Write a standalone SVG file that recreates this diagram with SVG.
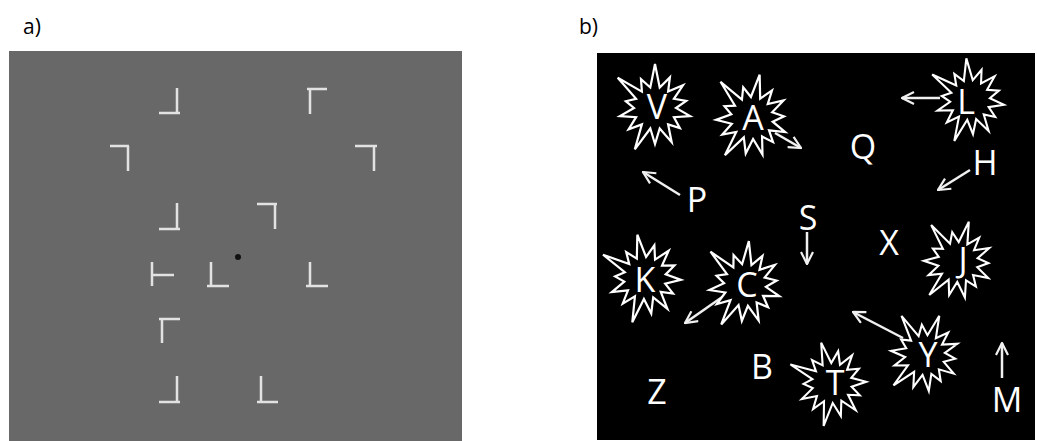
<svg xmlns="http://www.w3.org/2000/svg" xmlns:xlink="http://www.w3.org/1999/xlink" width="1037" height="441" viewBox="0 0 1037 441">
<style>
.lbl{font-family:"Open Sans","Liberation Sans",sans-serif;font-size:21px;fill:#000}
.mk{stroke:#e2e2e2;stroke-width:2.5;fill:none;stroke-linecap:butt}
.let{font-family:"Open Sans","Liberation Sans",sans-serif;font-size:34px;fill:#fff;text-anchor:middle}
.star{fill:#000;stroke:#fff;stroke-width:2.2;stroke-linejoin:miter}
.arr{stroke:#f0f0f0;stroke-width:2.5;fill:none;marker-end:url(#ah)}
</style>
<defs>
<path id="star" d="M0,-44 L4.7,-20.5 L14.9,-30.6 L13.1,-16.4 L28,-22.7 L18.9,-9.2 L31.2,-7.2 L21,0 L35.1,8.1 L18.9,9.2 L24.9,20.1 L13.1,16.4 L16.7,34.2 L4.7,20.5 L0,36 L-4.7,20.5 L-20.2,41.4 L-13.1,16.4 L-26.4,21.4 L-18.9,9.2 L-35.1,8.1 L-21,0 L-29.2,-6.8 L-18.9,-9.2 L-37.3,-30.2 L-13.1,-16.4 L-14,-28.8 L-4.7,-20.5 Z"/>
<marker id="ah" viewBox="0 0 14 14" refX="13" refY="7" markerWidth="14" markerHeight="14" markerUnits="userSpaceOnUse" orient="auto">
<path d="M1,1 L13,7 L1,13" fill="none" stroke="#f0f0f0" stroke-width="2.2"/>
</marker>
</defs>
<rect width="1037" height="441" fill="#fff"/>
<text class="lbl" x="23" y="34">a)</text>
<text class="lbl" x="579" y="34">b)</text>

<g id="panel-a">
<rect x="9" y="51" width="453" height="390" fill="#686868"/>
<path class="mk" d="M177,88 V113 M159,113 H180"/>
<path class="mk" d="M307,89 H327 M310,89 V114"/>
<path class="mk" d="M110,146 H129 M128,146 V171"/>
<path class="mk" d="M355,146 H377 M374,146 V171"/>
<path class="mk" d="M177,203 V229 M159,229 H180"/>
<path class="mk" d="M257,204 H277 M275,204 V229"/>
<circle cx="238" cy="257" r="3" fill="#111"/>
<path class="mk" d="M152,262 V286 M152,275 H174"/>
<path class="mk" d="M211,262 V286 M207,286 H229"/>
<path class="mk" d="M310,262 V286 M306,286 H328"/>
<path class="mk" d="M159,319 H180 M162,319 V343"/>
<path class="mk" d="M177,376 V402 M159,402 H180"/>
<path class="mk" d="M261,376 V402 M257,402 H278"/>
</g>

<g id="panel-b">
<rect x="597" y="53" width="438" height="387" fill="#000"/>
</g>

<g id="connectors">
<line class="arr" x1="775" y1="133" x2="801" y2="148"/>
<line class="arr" x1="940" y1="98" x2="902" y2="98"/>
<line class="arr" x1="970" y1="170" x2="938" y2="190"/>
<line class="arr" x1="680" y1="195" x2="643" y2="172"/>
<line class="arr" x1="807" y1="232" x2="807" y2="264"/>
<line class="arr" x1="728" y1="293" x2="685" y2="323"/>
<line class="arr" x1="903" y1="338" x2="853" y2="312"/>
<line class="arr" x1="1002" y1="378" x2="1002" y2="343"/>
</g>

<g id="node-V"><use href="#star" class="star" transform="translate(655,108)"/><text class="let" x="657" y="119">V</text></g>
<g id="node-A"><use href="#star" class="star" transform="translate(752,118) rotate(10)"/><text class="let" x="753" y="130">A</text></g>
<g id="node-L"><use href="#star" class="star" transform="translate(970,100) rotate(-5) scale(0.95)"/><text class="let" x="966" y="114">L</text></g>
<g id="node-J"><use href="#star" class="star" transform="translate(958,262) rotate(15) scale(0.95)"/><text class="let" x="963" y="272">J</text></g>
<g id="node-K"><use href="#star" class="star" transform="translate(645,278) rotate(-10)"/><text class="let" x="645" y="292">K</text></g>
<g id="node-C"><use href="#star" class="star" transform="translate(745,285) rotate(5)"/><text class="let" x="747" y="297">C</text></g>
<g id="node-Y"><use href="#star" class="star" transform="translate(925,355) rotate(20) scale(0.95)"/><text class="let" x="928" y="367">Y</text></g>
<g id="node-T"><use href="#star" class="star" transform="translate(832,383) rotate(-15) scale(0.95)"/><text class="let" x="835" y="395">T</text></g>

<g id="node-Q"><text class="let" x="863" y="159">Q</text></g>
<g id="node-H"><text class="let" x="985" y="175">H</text></g>
<g id="node-P"><text class="let" x="697" y="212">P</text></g>
<g id="node-S"><text class="let" x="808" y="230">S</text></g>
<g id="node-X"><text class="let" x="889" y="255">X</text></g>
<g id="node-M"><text class="let" x="1007" y="412">M</text></g>
<g id="node-B"><text class="let" x="762" y="379">B</text></g>
<g id="node-Z"><text class="let" x="657" y="404">Z</text></g>
</svg>
